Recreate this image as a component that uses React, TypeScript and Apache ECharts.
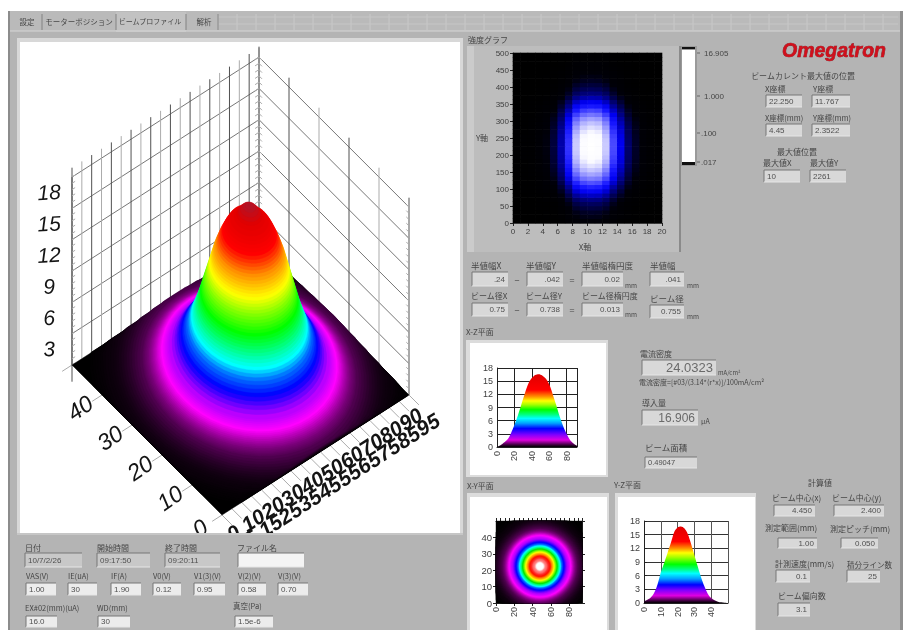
import React, { useEffect, useRef } from "react";
import * as echarts from "echarts";

// ---------- data ----------
const tabLabels = ["設定", "モーターポジション", "ビームプロファイル", "解析"];

// 3D surface: each slice is a height (z) with its radius on the floor
const surfaceHeights = [0, 0.02, 0.03, 0.04, 0.05, 0.06, 0.075, 0.09, 0.105, 0.12, 0.14, 0.165, 0.19, 0.22, 0.25, 0.29, 0.33, 0.38, 0.43, 0.48, 0.54, 0.6, 0.65, 0.7, 0.75, 0.8, 0.86, 0.92, 0.98, 1.05, 1.12, 1.2, 1.28, 1.35, 1.42, 1.5, 1.58, 1.65, 1.73, 1.82, 1.91, 2.0, 2.25, 2.5, 2.75, 3.0, 3.25, 3.5, 3.75, 4.0, 4.25, 4.5, 4.75, 5.0, 5.25, 5.5, 5.75, 6.0, 6.25, 6.5, 6.75, 7.0, 7.25, 7.5, 7.75, 8.0, 8.25, 8.5, 8.75, 9.0, 9.25, 9.5, 9.75, 10.0, 10.25, 10.5, 10.75, 11.0, 11.25, 11.5, 11.75, 12.0, 12.25, 12.5, 12.75, 13.0, 13.25, 13.5, 13.75, 14.0, 14.25, 14.5, 14.75, 15.0, 15.25, 15.5, 15.75, 16.0, 16.1, 16.2];
const surfaceRadii = [999, 60, 59, 58, 57, 56, 55, 54, 53, 52, 51, 50, 49, 48, 47, 46, 45, 44, 43, 42, 41, 40, 39.5, 39, 38.5, 38, 37.5, 37, 36.5, 36, 35.5, 35, 34.5, 34, 33.5, 33, 32.5, 32, 31.5, 31, 30.5, 30, 29, 28, 27.2, 26.5, 25.7, 25, 24.4, 23.8, 23.2, 22.7, 22.2, 21.8, 21.4, 21, 20.6, 20.2, 19.9, 19.5, 19.2, 18.9, 18.6, 18.3, 18, 17.7, 17.4, 17.1, 16.8, 16.5, 16.2, 15.9, 15.6, 15.3, 15, 14.7, 14.4, 14.1, 13.8, 13.5, 13.2, 12.8, 12.4, 12, 11.6, 11.2, 10.7, 10.2, 9.7, 9.2, 8.6, 8, 7.2, 5.8, 4.8, 4.2, 3.4, 2.4, 1.5, 0.5];

const xTicks3d = [0, 5, 10, 15, 20, 25, 30, 35, 40, 45, 50, 55, 60, 65, 70, 75, 80, 85, 90, 95];
const yTicks3d = [0, 10, 20, 30, 40, 50];
const zTicks3d = [0, 3, 6, 9, 12, 15, 18];

// Intensity image: column and row brightness
const heatColumns = [0.005, 0.01, 0.015, 0.03, 0.055, 0.1, 0.22, 0.45, 0.8, 0.95, 1, 0.97, 0.8, 0.5, 0.3, 0.15, 0.08, 0.04, 0.02, 0.01];
const heatRows = [0.05, 0.065, 0.08, 0.105, 0.135, 0.18, 0.25, 0.33, 0.42, 0.52, 0.62, 0.71, 0.79, 0.86, 0.92, 0.96, 0.99, 1, 1, 0.99, 0.96, 0.91, 0.85, 0.78, 0.7, 0.6, 0.5, 0.4, 0.31, 0.23, 0.17, 0.13, 0.1, 0.075, 0.06, 0.045, 0.035, 0.03, 0.02, 0.015];

// X-Z and Y-Z sections
const xzPositions = [0, 4, 8, 12, 16, 20, 24, 28, 32, 36, 40, 44, 48, 52, 56, 60, 64, 68, 72, 76, 80, 84, 88, 92];
const xzHeights = [0.05, 0.4, 1, 1.7, 3.1, 5, 7.2, 9.7, 12.2, 14.4, 15.7, 16.4, 16.6, 16.3, 15.6, 14.3, 12.1, 9.6, 7, 4.8, 3, 1.6, 0.8, 0.3];
const yzPositions = [0, 2, 4, 6, 8, 10, 12, 14, 16, 18, 20, 22, 24, 26, 28, 30, 32, 34, 36, 38, 40, 42, 44, 46, 48, 50];
const yzHeights = [0.4, 0.7, 1.2, 2.2, 4, 6.7, 8.8, 11, 13.2, 15.6, 16.6, 16.8, 16.4, 15.2, 13, 10.5, 8, 5.6, 3.6, 2, 1.1, 0.6, 0.3, 0.15, 0.05, 0];

const colorbarLabels = ["16.905", "1.000", ".100", ".017"];
const dateTimeValues = ["10/7/2/26", "09:17:50", "09:20:11"];
const sourceLabels = ["VAS(V)", "IE(uA)", "IF(A)", "V0(V)", "V1(3)(V)", "V(2)(V)", "V(3)(V)"];
const sourceValues = ["1.00", "30", "1.90", "0.12", "0.95", "0.58", "0.70"];

// ---------- colour ramps and shared geometry ----------
const ramp3d: [number, string][] = [[0, "#000000"], [0.15, "#100010"], [0.35, "#300030"], [0.8, "#780078"], [1.5, "#ff00ff"], [2.3, "#9000ff"], [3.2, "#0000ff"], [4.2, "#0070ff"], [5, "#00ffff"], [6.5, "#00ff60"], [7.5, "#00ff00"], [9, "#80ff00"], [10.3, "#ffff00"], [12, "#ff9000"], [13.5, "#ff0000"], [15.2, "#e00000"], [16.2, "#b01428"]];
const rampContour: [number, string][] = [[0, "#000000"], [0.15, "#100010"], [0.35, "#300030"], [0.8, "#780078"], [1.5, "#ff00ff"], [2.3, "#9000ff"], [3.2, "#0000ff"], [4.2, "#0070ff"], [5, "#00ffff"], [6.5, "#00ff60"], [7.5, "#00e000"], [9, "#80ff00"], [10.3, "#ffff00"], [12, "#ff9000"], [13.2, "#ff1000"], [14.2, "#ff3030"], [15, "#ff9090"], [15.6, "#ffffff"]];
const rampHeat: [number, string][] = [[0, "#000000"], [0.05, "#000008"], [0.12, "#000050"], [0.3, "#0000f0"], [0.4, "#1818ff"], [0.55, "#6060ff"], [0.75, "#b8b8ff"], [0.92, "#fafaff"], [1, "#ffffff"]];
const FONT = '"Noto Sans CJK JP", "Noto Sans", sans-serif';
const LATIN = '"Liberation Sans", Arial, sans-serif';
const GREY = "#b4b4b4";

function hexRgb(h: string) {
  return [parseInt(h.slice(1, 3), 16), parseInt(h.slice(3, 5), 16), parseInt(h.slice(5, 7), 16)];
}
function rampColor(stops: [number, string][], v: number) {
  if (v <= stops[0][0]) return stops[0][1];
  for (let i = 1; i < stops.length; i++) {
    if (v <= stops[i][0]) {
      const t = (v - stops[i - 1][0]) / (stops[i][0] - stops[i - 1][0]);
      const a = hexRgb(stops[i - 1][1]);
      const b = hexRgb(stops[i][1]);
      return `rgb(${a.map((c, k) => Math.round(c + (b[k] - c) * t)).join(",")})`;
    }
  }
  return stops[stops.length - 1][1];
}
function areaGradient(stops: [number, string][], top: number) {
  return new echarts.graphic.LinearGradient(0, 0, 0, 1, stops.map(([z, color]) => ({ offset: Math.max(0, Math.min(1, 1 - z / top)), color })).reverse());
}

// oblique projection of the 3D box onto the page scale
const X_MAX = 95;
const Y_MAX = 50;
function project(x: number, y: number, z: number): [number, number] {
  return [222 + (x * 187) / X_MAX - (y * 150) / Y_MAX, 515 - (x * 120) / X_MAX - (y * 150) / Y_MAX - z * 10.44];
}
const clamp = (v: number, lo: number, hi: number) => Math.max(lo, Math.min(hi, v));
const ANGLES = Array.from({ length: 48 }, (_, i) => (i / 48) * Math.PI * 2);

// wall lines and ticks: [x0,y0,z0,x1,y1,z1,shade]
function buildLines() {
  const out: number[][] = [];
  zTicks3d.forEach((z) => {
    if (z === 0) return;
    out.push([0, Y_MAX, z, X_MAX, Y_MAX, z, 1]);
    out.push([X_MAX, 0, z, X_MAX, Y_MAX, z, 1]);
  });
  xTicks3d.forEach((x, i) => {
    out.push([x, Y_MAX, 0, x, Y_MAX, 18.9, i % 2 ? 2 : 0]);
    out.push([x, 0, 0, x, -3.3, 0, 2]);
  });
  yTicks3d.forEach((y) => {
    if (y < Y_MAX) out.push([X_MAX, y, 0, X_MAX, y, 18.9, y % 20 ? 2 : 0]);
    out.push([0, y, 0, -5, y, 0, 2]);
  });
  out.push([X_MAX, Y_MAX, 0, X_MAX, Y_MAX, 19, 0]);
  out.push([0, Y_MAX, -1.6, 0, Y_MAX, 18, 0]);
  out.push([X_MAX, 0, 0, X_MAX, 0, 18, 2]);
  for (let z = 0; z <= 18; z += 0.6) {
    out.push([X_MAX - 2, Y_MAX, z, X_MAX, Y_MAX, z, 2]);
    out.push([X_MAX, Y_MAX - 1, z, X_MAX, Y_MAX, z, 2]);
    out.push([0, Y_MAX, z, 1.6, Y_MAX, z, 2]);
    out.push([X_MAX, 0, z, X_MAX, 0.9, z, 2]);
  }
  return out;
}

// labels of the 3D box
function buildLabels3d() {
  const out: { p: [number, number]; text: string; rot: number; size: number; weight: string }[] = [];
  zTicks3d.forEach((z) => {
    if (z === 0) return;
    const p = project(0, Y_MAX, z);
    out.push({ p: [p[0] - 23, p[1] + 15], text: String(z), rot: 0.06, size: 21, weight: "normal" });
  });
  yTicks3d.forEach((y) => {
    if (y === Y_MAX) return;
    const p = project(0, y, 0);
    out.push({ p: [p[0] - 22, p[1] + 13], text: String(y), rot: 0.6, size: 23, weight: "normal" });
  });
  xTicks3d.forEach((x, i) => {
    const p = project(x, 0, 0);
    const d = i % 2 ? 35 : 21;
    out.push({ p: [p[0] + d * 0.54, p[1] + d * 0.842], text: String(x), rot: 0.57, size: 21, weight: "bold" });
  });
  return out;
}

// ---------- page furniture ----------
function rect(x: number, y: number, w: number, h: number, fill: string, z = -2) {
  return { type: "rect", z, shape: { x, y, width: w, height: h }, style: { fill }, silent: true };
}
function line(x1: number, y1: number, x2: number, y2: number, stroke: string, z = -1, lineWidth = 1) {
  return { type: "line", z, shape: { x1, y1, x2, y2 }, style: { stroke, lineWidth }, silent: true };
}
function text(x: number, y: number, s: string, size = 8, opt: any = {}) {
  return {
    type: "text",
    z: 10,
    silent: true,
    x,
    y,
    rotation: opt.rotation || 0,
    style: {
      text: s,
      fill: opt.fill || "#464646",
      fontSize: size,
      fontFamily: opt.family || FONT,
      fontWeight: opt.weight || "normal",
      fontStyle: opt.style || "normal",
      align: opt.align || "left",
      verticalAlign: "middle",
      stroke: opt.stroke,
      lineWidth: opt.lineWidth,
    },
  };
}
function box(x: number, y: number, x2: number, y2: number, value: string, opt: any = {}) {
  const w = x2 - x;
  const h = y2 - y;
  const out: any[] = [
    rect(x, y, w, h, opt.fill || "#d8d8d8"),
    line(x, y, x2, y, "#777777"),
    line(x, y, x, y2, "#777777"),
    line(x, y2, x2, y2, "#e6e6e6"),
  ];
  if (value) {
    const right = opt.align === "right";
    out.push(text(right ? x2 - 3 : x + 3, y + h / 2, value, opt.size || 8, { align: right ? "right" : "left", family: LATIN, fill: opt.color || "#505050" }));
  }
  return out;
}

function buildGraphic() {
  const g: any[] = [];
  g.push(rect(8, 11, 895, 619, GREY, -5));
  g.push(rect(8, 11, 2, 619, "#8c8c8c", -4));
  g.push(rect(900, 11, 3, 619, "#8f8f8f", -4));
  // tab strip
  g.push(rect(10, 11, 890, 20, "#bababa", -4));
  for (let x = 218; x < 898; x += 19) g.push(line(x, 14, x, 30, "#c9c9c9", -3));
  g.push(line(218, 17, 898, 17, "#c6c6c6", -3));
  g.push(line(218, 24, 898, 24, "#c6c6c6", -3));
  g.push(rect(116, 12, 70, 20, "#c2c2c2", -4));
  g.push(line(10, 31, 900, 31, "#d6d6d6", -3));
  [42, 116, 186, 218].forEach((x) => g.push(line(x, 14, x, 30, "#828282", -3)));
  g.push(text(27, 21.5, tabLabels[0], 7.5, { align: "center" }));
  g.push(text(79, 21.5, tabLabels[1], 7.5, { align: "center" }));
  g.push(text(150, 20.5, tabLabels[2], 7, { align: "center" }));
  g.push(text(204, 21.5, tabLabels[3], 7.5, { align: "center" }));

  // main 3D panel
  g.push(rect(17, 38, 446, 498, "#d8d8d8", -4));
  g.push(rect(20, 42, 440, 491, "#ffffff", -3));
  g.push(rect(14, 533, 449, 14, GREY, 3));
  g.push(line(17, 534, 463, 534, "#d8d8d8", 3));

  // intensity panel
  g.push(text(468, 39, "強度グラフ", 8));
  g.push(rect(467, 46, 212, 206, "#bdbdbd", -4));
  g.push(rect(467, 46, 7, 206, "#cbcbcb", -4));
  g.push(rect(679, 46, 2, 206, "#8a8a8a", -4));
  g.push(text(482, 137, "Y軸", 8, { align: "center" }));
  g.push(text(585, 246, "X軸", 8, { align: "center" }));

  // colour bar
  g.push(rect(681, 46, 16, 120, "#9a9a9a", -3));
  g.push(rect(682, 50, 13, 112, "#ffffff", -2));
  g.push(rect(682, 47, 13, 2, "#111111", -2));
  g.push(rect(682, 162, 13, 3, "#111111", -2));
  [[53, 0], [96, 1], [133, 2], [162, 3]].forEach(([y, i]) => {
    g.push(line(697, y, 700, y, "#666666"));
    g.push(text(i < 2 ? 704 : 701, y, colorbarLabels[i], 8, { family: LATIN }));
  });

  g.push(text(782, 50, "Omegatron", 19.5, { family: LATIN, weight: "bold", style: "italic", fill: "#d0101c", stroke: "#80101a", lineWidth: 0.6 }));
  g.push(text(803, 75, "ビームカレント最大値の位置", 8, { align: "center" }));
  g.push(text(765, 88, "X座標", 8));
  g.push(text(813, 88, "Y座標", 8));
  g.push(...box(766, 95, 802, 107, "22.250"));
  g.push(...box(812, 95, 850, 107, "11.767"));
  g.push(text(765, 117, "X座標(mm)", 7.5));
  g.push(text(813, 117, "Y座標(mm)", 7.5));
  g.push(...box(766, 124, 802, 136, "4.45"));
  g.push(...box(812, 124, 850, 136, "2.3522"));
  g.push(text(797, 151, "最大値位置", 8, { align: "center" }));
  g.push(text(763, 162, "最大値X", 8));
  g.push(text(810, 162, "最大値Y", 8));
  g.push(...box(764, 170, 800, 182, "10"));
  g.push(...box(810, 170, 846, 182, "2261"));

  // widths
  g.push(text(471, 265, "半値幅X", 8.5));
  g.push(text(526, 265, "半値幅Y", 8.5));
  g.push(text(582, 265, "半値幅楕円度", 8.5));
  g.push(text(650, 265, "半値幅", 8.5));
  g.push(...box(472, 272, 508, 286, ".24", { align: "right" }));
  g.push(...box(527, 272, 563, 286, ".042", { align: "right" }));
  g.push(...box(582, 272, 623, 286, "0.02", { align: "right" }));
  g.push(...box(650, 272, 684, 286, ".041", { align: "right" }));
  g.push(text(517, 280, "−", 9, { align: "center" }));
  g.push(text(572, 280, "=", 9, { align: "center" }));
  g.push(text(625, 285, "mm", 6.5));
  g.push(text(687, 285, "mm", 6.5));
  g.push(text(471, 295, "ビーム径X", 8));
  g.push(text(526, 295, "ビーム径Y", 8));
  g.push(text(582, 295, "ビーム径楕円度", 8));
  g.push(text(650, 298, "ビーム径", 8.5));
  g.push(...box(472, 303, 508, 316, "0.75", { align: "right" }));
  g.push(...box(527, 303, 563, 316, "0.738", { align: "right" }));
  g.push(...box(582, 303, 623, 316, "0.013", { align: "right" }));
  g.push(...box(650, 305, 684, 318, "0.755", { align: "right" }));
  g.push(text(517, 310, "−", 9, { align: "center" }));
  g.push(text(572, 310, "=", 9, { align: "center" }));
  g.push(text(625, 314, "mm", 6.5));
  g.push(text(687, 316, "mm", 6.5));

  // section panels
  g.push(text(466, 331, "X-Z平面", 8));
  g.push(rect(466, 340, 142, 137, "#dcdcdc", -4));
  g.push(rect(470, 343, 136, 132, "#ffffff", -3));
  g.push(text(467, 485, "X-Y平面", 8));
  g.push(rect(467, 493, 142, 137, "#dcdcdc", -4));
  g.push(rect(470, 497, 137, 133, "#ffffff", -3));
  g.push(text(614, 484, "Y-Z平面", 8));
  g.push(rect(615, 493, 141, 137, "#dcdcdc", -4));
  g.push(rect(618, 497, 137, 133, "#ffffff", -3));

  // current
  g.push(text(640, 353, "電流密度", 8));
  g.push(...box(642, 360, 716, 375, "24.0323", { align: "right", size: 13, color: "#6a6a6a" }));
  g.push(text(718, 372, "mA/cm²", 6));
  g.push(text(639, 382, "電流密度=[#03/(3.14*(r*x)]/100mA/cm²", 7));
  g.push(text(642, 402, "導入量", 8));
  g.push(...box(642, 410, 698, 425, "16.906", { align: "right", size: 12, color: "#6a6a6a" }));
  g.push(text(701, 421, "μA", 7));
  g.push(text(645, 447, "ビーム面積", 8.5));
  g.push(...box(645, 457, 697, 468, "0.49047", { size: 7.5 }));

  // computed values
  g.push(text(820, 482, "計算値", 8, { align: "center" }));
  g.push(text(772, 497, "ビーム中心(x)", 8));
  g.push(text(832, 497, "ビーム中心(y)", 8));
  g.push(...box(774, 505, 815, 516, "4.450", { align: "right" }));
  g.push(...box(834, 505, 884, 516, "2.400", { align: "right" }));
  g.push(text(765, 527, "測定範囲(mm)", 8));
  g.push(text(830, 528, "測定ピッチ(mm)", 8));
  g.push(...box(778, 538, 817, 548, "1.00", { align: "right" }));
  g.push(...box(841, 538, 878, 548, "0.050", { align: "right" }));
  g.push(text(775, 563, "計測速度(mm/s)", 8));
  g.push(text(847, 564, "積分ライン数", 7.5));
  g.push(...box(776, 570, 810, 582, "0.1", { align: "right" }));
  g.push(...box(847, 570, 880, 582, "25", { align: "right" }));
  g.push(text(778, 595, "ビーム偏向数", 8));
  g.push(...box(778, 603, 810, 616, "3.1", { align: "right" }));

  // run information
  g.push(text(25, 547, "日付", 8));
  g.push(text(97, 547, "開始時間", 8));
  g.push(text(165, 547, "終了時間", 8));
  g.push(text(237, 547, "ファイル名", 8));
  g.push(...box(25, 553, 82, 567, dateTimeValues[0], { fill: "#c8c8c8" }));
  g.push(...box(97, 553, 150, 567, dateTimeValues[1], { fill: "#c8c8c8" }));
  g.push(...box(165, 553, 220, 567, dateTimeValues[2], { fill: "#c8c8c8" }));
  g.push(...box(238, 553, 304, 567, "", { fill: "#f4f4f4" }));
  const srcX = [[26, 56], [68, 97], [111, 141], [153, 181], [194, 225], [238, 266], [278, 308]];
  srcX.forEach(([a, b], i) => {
    g.push(text(a, 575, sourceLabels[i], 7.5));
    g.push(...box(a, 583, b, 595, sourceValues[i], { fill: "#ececec" }));
  });
  g.push(text(25, 607, "EX#02(mm)(uA)", 7.5));
  g.push(text(97, 607, "WD(mm)", 7.5));
  g.push(text(233, 605, "真空(Pa)", 7.5));
  g.push(...box(26, 616, 57, 627, "16.0", { fill: "#ececec" }));
  g.push(...box(98, 616, 130, 627, "30", { fill: "#ececec" }));
  g.push(...box(235, 616, 273, 627, "1.5e-6", { fill: "#ececec" }));
  return g;
}

// ---------- axes helper ----------
function valueAxis(gridIndex: number, min: number, max: number, interval: number, opt: any = {}) {
  return {
    type: "value",
    gridIndex,
    min,
    max,
    interval,
    position: opt.position,
    axisLine: { show: true, onZero: false, lineStyle: { color: opt.lineColor || "#222", width: 1 } },
    axisTick: { show: true, inside: opt.tickInside ?? false, length: opt.tickLen ?? 3, lineStyle: { color: "#222" } },
    splitLine: { show: !!opt.split, lineStyle: { color: opt.splitColor || "#222", width: 1 } },
    axisLabel: { show: opt.labels ?? true, color: "#404040", fontSize: opt.size || 8, fontFamily: LATIN, margin: opt.margin ?? 4, rotate: opt.rotate || 0, showMaxLabel: opt.showMax ?? true, hideOverlap: false },
  };
}

export default function App() {
  const ref = useRef<HTMLDivElement>(null);
  useEffect(() => {
    const chart = echarts.init(ref.current!, undefined, { renderer: "svg" });
    const labels3d = buildLabels3d();
    const heatData: number[][] = [];
    heatRows.forEach((r, j) => heatColumns.forEach((c, i) => heatData.push([i, j * 12.5, c * r])));
    const slices = surfaceHeights.map((z, i) => [z, surfaceRadii[i]]);

    chart.setOption({
      animation: false,
      backgroundColor: "#ffffff",
      graphic: { elements: buildGraphic() },
      grid: [
        { left: 0, top: 0, width: 903, height: 630 },
        { left: 513, top: 53, width: 149, height: 170 },
        { left: 497, top: 368, width: 80, height: 79 },
        { left: 496, top: 521, width: 86, height: 82 },
        { left: 644, top: 521, width: 84, height: 82 },
      ],
      xAxis: [
        { type: "value", gridIndex: 0, min: 0, max: 903, show: false },
        valueAxis(1, 0, 20, 2, { lineColor: "#555" }),
        valueAxis(2, 0, 92, 20, { split: true, rotate: 90, size: 9, tickInside: true, showMax: false }),
        valueAxis(3, 0, 94, 20, { rotate: 90, size: 9, tickInside: false, showMax: false, position: "bottom" }),
        valueAxis(4, 0, 50, 10, { split: true, splitColor: "#555", rotate: 90, size: 9, tickInside: true, showMax: false }),
        valueAxis(3, 0, 94, 5, { labels: false, position: "top", tickLen: 3 }),
      ],
      yAxis: [
        { type: "value", gridIndex: 0, min: 0, max: 630, inverse: true, show: false },
        valueAxis(1, 0, 500, 50, { lineColor: "#555" }),
        valueAxis(2, 0, 18, 3, { split: true, size: 9, tickInside: true }),
        valueAxis(3, 0, 50, 10, { size: 9.5, tickInside: false, showMax: false, position: "left" }),
        valueAxis(4, 0, 18, 3, { split: true, splitColor: "#333", size: 9, tickInside: true }),
        valueAxis(3, 0, 50, 10, { labels: false, position: "right", tickLen: 3 }),
      ],
      series: [
        {
          type: "custom",
          name: "3D walls",
          xAxisIndex: 0,
          yAxisIndex: 0,
          clip: false,
          silent: true,
          data: buildLines(),
          renderItem: (_p: any, api: any) => {
            const a = api.coord(project(api.value(0), api.value(1), api.value(2)));
            const b = api.coord(project(api.value(3), api.value(4), api.value(5)));
            const shade = api.value(6);
            return {
              type: "line",
              shape: { x1: a[0], y1: a[1], x2: b[0], y2: b[1] },
              style: { stroke: shade === 0 ? "#505050" : shade === 1 ? "#777777" : "#ababab", lineWidth: 1 },
            };
          },
        },
        {
          type: "custom",
          name: "3D surface",
          xAxisIndex: 0,
          yAxisIndex: 0,
          clip: false,
          silent: true,
          data: slices,
          renderItem: (_p: any, api: any) => {
            const z = api.value(0);
            const r = api.value(1);
            const points = ANGLES.map((t) => {
              const x = clamp(52 + r * Math.cos(t), 0, X_MAX);
              const y = clamp(25 + r * 0.6 * Math.sin(t), 0, Y_MAX);
              return api.coord(project(x, y, z));
            });
            const fill = rampColor(ramp3d, z);
            return { type: "polygon", shape: { points }, style: { fill, stroke: fill, lineWidth: 0.5 } };
          },
        },
        {
          type: "custom",
          name: "3D labels",
          xAxisIndex: 0,
          yAxisIndex: 0,
          clip: false,
          silent: true,
          data: labels3d.map((_, i) => [i]),
          renderItem: (_p: any, api: any) => {
            const l = labels3d[api.value(0)];
            const c = api.coord(l.p);
            return {
              type: "text",
              x: c[0],
              y: c[1],
              rotation: l.rot,
              style: { text: l.text, fill: "#141414", fontSize: l.size, fontStyle: "italic", fontWeight: l.weight, fontFamily: LATIN, align: "center", verticalAlign: "middle" },
            };
          },
        },
        {
          type: "custom",
          name: "Intensity",
          xAxisIndex: 1,
          yAxisIndex: 1,
          silent: true,
          data: heatData,
          renderItem: (_p: any, api: any) => {
            const a = api.coord([api.value(0), api.value(1)]);
            const b = api.coord([api.value(0) + 1, api.value(1) + 12.5]);
            const fill = rampColor(rampHeat, api.value(2));
            return {
              type: "rect",
              shape: { x: a[0] - 0.3, y: b[1] - 0.3, width: b[0] - a[0] + 0.6, height: a[1] - b[1] + 0.6 },
              style: { fill },
            };
          },
        },
        {
          type: "line",
          name: "X-Z",
          xAxisIndex: 2,
          yAxisIndex: 2,
          smooth: 0.3,
          showSymbol: false,
          silent: true,
          lineStyle: { width: 0 },
          areaStyle: { opacity: 1, color: areaGradient([[0, "#000000"], [0.4, "#300030"], [1.6, "#e000e0"], [2.8, "#8000ff"], [4.2, "#0000ff"], [5.4, "#00a0ff"], [6.5, "#00ffff"], [7.4, "#00ff80"], [8.5, "#00ff00"], [9.6, "#a0ff00"], [10.5, "#ffff00"], [11.5, "#ff9000"], [13, "#ff0000"], [16.6, "#e00000"]], 16.6) },
          data: xzPositions.map((x, i) => [x, xzHeights[i]]),
        },
        {
          type: "custom",
          name: "X-Y",
          xAxisIndex: 3,
          yAxisIndex: 3,
          clip: false,
          silent: true,
          data: slices,
          renderItem: (_p: any, api: any) => {
            const z = api.value(0);
            const r = api.value(1);
            const points = ANGLES.map((t) =>
              api.coord([clamp(48 + r * 1.02 * Math.cos(t), 0, 94), clamp(22.4 + r * 0.57 * Math.sin(t), 0, 50)])
            );
            const fill = rampColor(rampContour, z);
            return { type: "polygon", shape: { points }, style: { fill, stroke: fill, lineWidth: 0.4 } };
          },
        },
        {
          type: "line",
          name: "Y-Z",
          xAxisIndex: 4,
          yAxisIndex: 4,
          smooth: 0.3,
          showSymbol: false,
          silent: true,
          lineStyle: { width: 0 },
          areaStyle: { opacity: 1, color: areaGradient([[0, "#000000"], [0.4, "#300030"], [1.6, "#e000e0"], [2.8, "#8000ff"], [4, "#0000ff"], [5.3, "#00a0ff"], [6.5, "#00ffff"], [7.4, "#00ff80"], [8.5, "#00ff00"], [10, "#a0ff00"], [11, "#ffff00"], [12, "#ff9000"], [13.5, "#ff0000"], [16.8, "#e00000"]], 16.8) },
          data: yzPositions.map((y, i) => [y, yzHeights[i]]),
        },
      ],
    });
    return () => chart.dispose();
  }, []);
  return <div ref={ref} style={{ position: "absolute", left: 0, top: 0, width: 903, height: 630, filter: "blur(0.55px)" }} />;
}
